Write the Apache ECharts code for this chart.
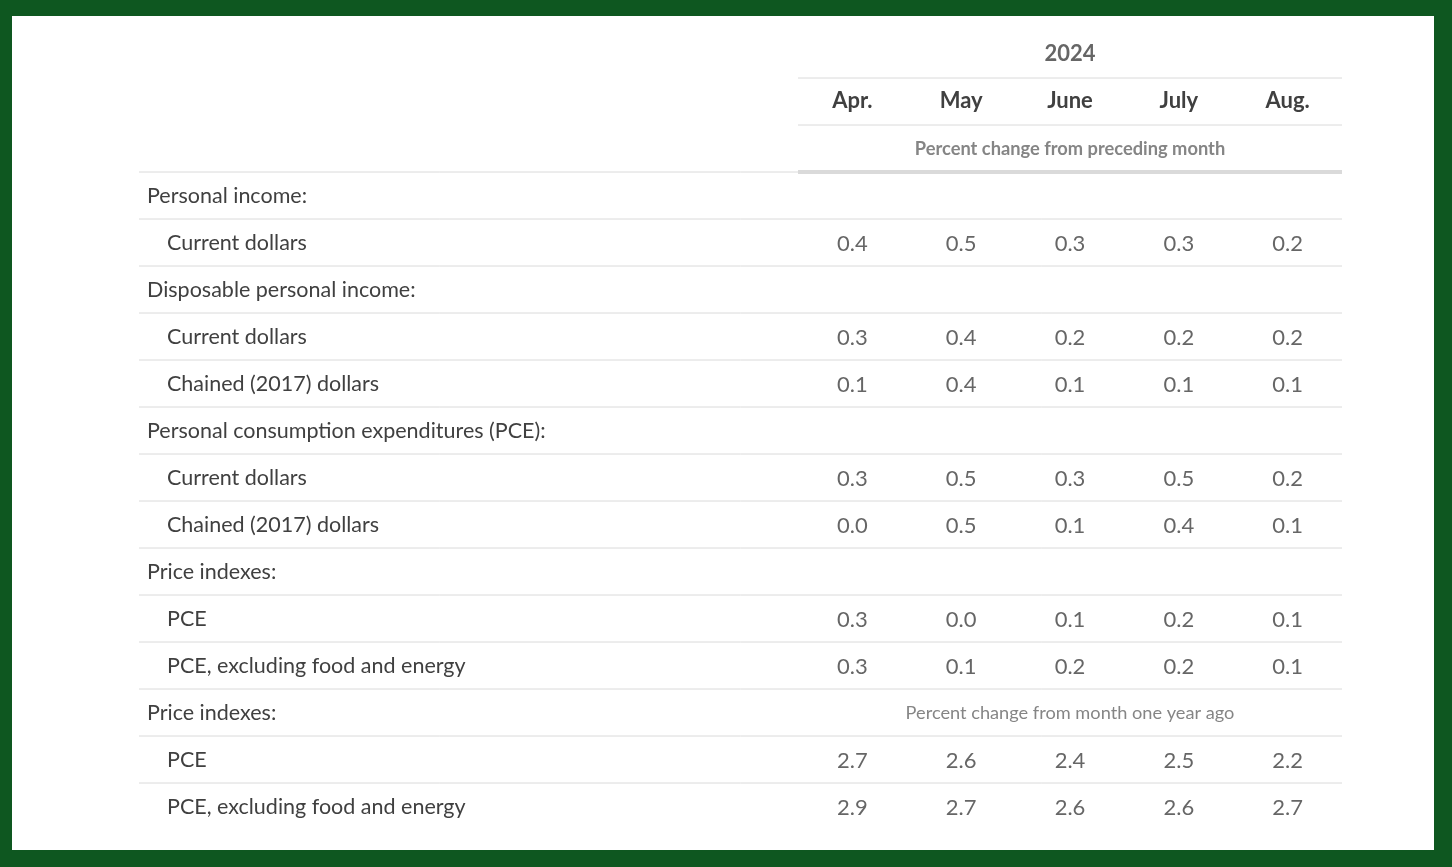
<!DOCTYPE html>
<html>
<head>
<meta charset="utf-8">
<script src="https://cdn.jsdelivr.net/npm/echarts@6/dist/echarts.min.js"></script>
<style>
  html, body { margin: 0; padding: 0; width: 1452px; height: 867px; background: #0e5720; overflow: hidden; }
  #chart { position: absolute; left: 12px; top: 16px; width: 1422px; height: 834px; background: #ffffff; }
</style>
</head>
<body>
<div id="chart"></div>
<script>
// ---- data ----
const yearLabel = '2024';
const months = ['Apr.', 'May', 'June', 'July', 'Aug.'];
const unitMonthly = 'Percent change from preceding month';
const unitYearly = 'Percent change from month one year ago';
const rowLabels = [
  'Personal income:',
  'Current dollars',
  'Disposable personal income:',
  'Current dollars',
  'Chained (2017) dollars',
  'Personal consumption expenditures (PCE):',
  'Current dollars',
  'Chained (2017) dollars',
  'Price indexes:',
  'PCE',
  'PCE, excluding food and energy',
  'Price indexes:',
  'PCE',
  'PCE, excluding food and energy'
];
const rowIndent = [0, 1, 0, 1, 1, 0, 1, 1, 0, 1, 1, 0, 1, 1];
const apr  = [null, 0.4, null, 0.3, 0.1, null, 0.3, 0.0, null, 0.3, 0.3, null, 2.7, 2.9];
const may  = [null, 0.5, null, 0.4, 0.4, null, 0.5, 0.5, null, 0.0, 0.1, null, 2.6, 2.7];
const june = [null, 0.3, null, 0.2, 0.1, null, 0.3, 0.1, null, 0.1, 0.2, null, 2.4, 2.6];
const july = [null, 0.3, null, 0.2, 0.1, null, 0.5, 0.4, null, 0.2, 0.2, null, 2.5, 2.6];
const aug  = [null, 0.2, null, 0.2, 0.1, null, 0.2, 0.1, null, 0.1, 0.1, null, 2.2, 2.7];
const yearlyUnitRow = 11; // row index of the second "Price indexes:" section

// ---- build ----
const columns = [apr, may, june, july, aug];
const HEADER_ROWS = 3;
const totalRows = HEADER_ROWS + rowLabels.length;
const rowKeys = [];
for (let i = 0; i < totalRows; i++) rowKeys.push('r' + i);

const textColor = '#404040';
const unitColor = '#666666';
const lineColor = '#dadada';
const font = 'Lato, "Noto Sans", sans-serif';

// value cells
const cellData = [];
columns.forEach(function (col, ci) {
  col.forEach(function (v, ri) {
    if (v !== null) {
      cellData.push({ value: [ci, rowKeys[ri + HEADER_ROWS]], text: v.toFixed(1) });
    }
  });
});
// header / unit texts (centered on middle column)
const midCol = Math.floor(months.length / 2);
cellData.push({ value: [midCol, rowKeys[0]], text: yearLabel,
  label: { fontSize: 22, fontWeight: 'bold', color: textColor, offset: [0, -1] } });
cellData.push({ value: [midCol, rowKeys[2]], text: unitMonthly,
  label: { fontSize: 18.3, fontWeight: 'bold', color: unitColor } });
cellData.push({ value: [midCol, rowKeys[yearlyUnitRow + HEADER_ROWS]], text: unitYearly,
  label: { fontSize: 18.2, fontWeight: 'normal', color: unitColor, offset: [0, 1] } });

// full-width row separators (below each body row except the last; plus the header bottom)
const fullLines = [];
for (let i = HEADER_ROWS - 1; i < totalRows - 1; i++) fullLines.push([0, rowKeys[i], 1]);
// header-only separators
const headerLines = [[0, rowKeys[0], 1], [0, rowKeys[1], 1], [0, rowKeys[2], 4]];

function lineRenderer(color) {
  return function (params, api) {
    const cs = params.coordSys;
    const c = api.coord([api.value(0), api.value(1)]);
    const h = api.size([0, 1])[1];
    const w = api.value(2);
    const y = c[1] + h / 2;
    return {
      type: 'line',
      shape: { x1: cs.x, y1: y, x2: cs.x + cs.width, y2: y },
      style: { stroke: color, lineWidth: w }
    };
  };
}

const chart = echarts.init(document.getElementById('chart'), null, { renderer: 'canvas' });
const gridTop = 15, gridBottom = 20, gridRight = 92;

chart.setOption({
  backgroundColor: '#ffffff',
  animation: false,
  textStyle: { fontFamily: font },
  grid: [
    { left: 127, right: gridRight, top: gridTop, bottom: gridBottom },
    { left: 786, right: gridRight, top: gridTop, bottom: gridBottom }
  ],
  xAxis: [
    { gridIndex: 0, type: 'value', min: 0, max: 1, show: false },
    { gridIndex: 1, type: 'category', data: months, position: 'top',
      axisLine: { show: false }, axisTick: { show: false }, splitLine: { show: false },
      axisLabel: { inside: true, margin: 70, verticalAlign: 'middle', interval: 0,
        fontSize: 22, fontWeight: 'bold', color: textColor, fontFamily: font } }
  ],
  yAxis: [
    { gridIndex: 0, type: 'category', data: rowKeys, inverse: true,
      axisLine: { show: false }, axisTick: { show: false }, splitLine: { show: false },
      axisLabel: {
        inside: true, margin: 8, align: 'left', verticalAlign: 'middle', interval: 0,
        fontSize: 21.5, color: textColor, fontFamily: font,
        formatter: function (v, idx) {
          const r = idx - HEADER_ROWS;
          if (r < 0) return '';
          return rowIndent[r] ? '{sub|' + rowLabels[r] + '}' : '{sec|' + rowLabels[r] + '}';
        },
        rich: {
          sec: { fontSize: 21.5, color: textColor, fontFamily: font, padding: [2, 0, 0, 0] },
          sub: { fontSize: 21.5, color: textColor, fontFamily: font, padding: [2, 0, 0, 20] }
        }
      } },
    { gridIndex: 1, type: 'category', data: rowKeys, inverse: true, show: false }
  ],
  series: [
    { type: 'custom', xAxisIndex: 0, yAxisIndex: 0, silent: true, z: 1,
      renderItem: lineRenderer(lineColor), data: fullLines },
    { type: 'custom', xAxisIndex: 1, yAxisIndex: 1, silent: true, z: 2,
      renderItem: lineRenderer(lineColor), data: headerLines },
    { type: 'scatter', xAxisIndex: 1, yAxisIndex: 1, silent: true, symbolSize: 0, z: 3,
      label: { show: true, position: 'inside', fontSize: 22, color: textColor, fontFamily: font,
        offset: [0, 1],
        formatter: function (p) { return p.data.text; } },
      data: cellData }
  ]
});
</script>
</body>
</html>
